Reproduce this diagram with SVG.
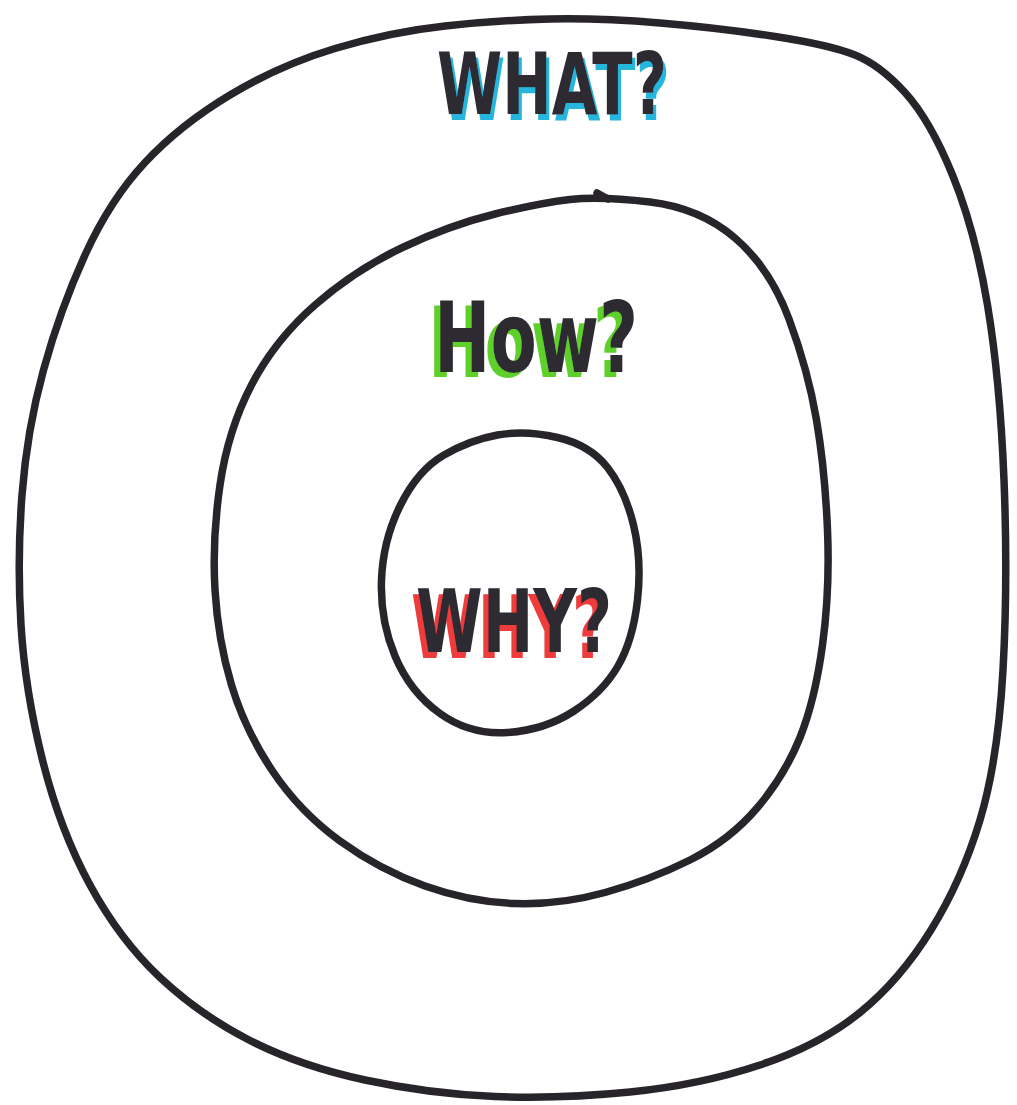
<svg xmlns="http://www.w3.org/2000/svg" width="1017" height="1105" viewBox="0 0 1017 1105">
<style>
.ring{fill:none;stroke:#28252a;stroke-width:7.5;stroke-linecap:round;stroke-linejoin:round}
.lbl{font-family:"DejaVu Sans Condensed","DejaVu Sans","Liberation Sans",sans-serif;font-weight:bold;fill:#2d2a31}
</style>
<defs>
<filter id="shBlue" x="-10%" y="-20%" width="125%" height="150%">
<feOffset in="SourceAlpha" dx="3" dy="6" result="o"/>
<feFlood flood-color="#25b5dc"/>
<feComposite in2="o" operator="in" result="s"/>
<feMerge><feMergeNode in="s"/><feMergeNode in="SourceGraphic"/></feMerge>
</filter>
<filter id="shGreen" x="-10%" y="-20%" width="125%" height="150%">
<feOffset in="SourceAlpha" dx="-6" dy="5" result="o"/>
<feFlood flood-color="#5fd02c"/>
<feComposite in2="o" operator="in" result="s"/>
<feMerge><feMergeNode in="s"/><feMergeNode in="SourceGraphic"/></feMerge>
</filter>
<filter id="shRed" x="-10%" y="-20%" width="125%" height="150%">
<feOffset in="SourceAlpha" dx="-5" dy="6" result="o"/>
<feFlood flood-color="#ee3b3b"/>
<feComposite in2="o" operator="in" result="s"/>
<feMerge><feMergeNode in="s"/><feMergeNode in="SourceGraphic"/></feMerge>
</filter>
</defs>
<rect width="1017" height="1105" fill="#ffffff"/>
<g id="what-ring">
<path class="ring" d="M335,48.5 Q390,32 445,26 Q500,20 550,19 Q600,18 660,23 Q720,28 775,36.5 Q830,45 855,55 Q880,65 905,92.5 Q930,120 952.5,175 Q975,230 987.5,305 Q1000,380 1004,480 Q1008,580 1003,670 Q998,760 980,820 Q962,880 931,930 Q900,980 860,1012.5 Q820,1045 760,1065 Q700,1085 630,1092 Q560,1099 495,1096.5 Q430,1094 365,1080 Q300,1066 250,1040.5 Q200,1015 160,977.5 Q120,940 90,885 Q60,830 42.5,760 Q25,690 21,625 Q17,560 22,495 Q27,430 43.5,370 Q60,310 85,255 Q110,200 145,162.5 Q180,125 230,95 Q280,65 335,48.5 Z"/>
</g>
<g id="how-ring">
<path class="ring" d="M495,214 Q540,203 570,199.5 Q600,196 650,202 Q700,208 735,238 Q770,268 789,319 Q808,370 816.5,420 Q825,470 827.5,530 Q830,590 822.5,645 Q815,700 800,737.5 Q785,775 757.5,807.5 Q730,840 690,860 Q650,880 605,892.5 Q560,905 515,903.5 Q470,902 425,886 Q380,870 340,841 Q300,812 272.5,771 Q245,730 231.5,685 Q218,640 215,590 Q212,540 220,485 Q228,430 251.5,385 Q275,340 315,305 Q355,270 402.5,247.5 Q450,225 495,214 Z"/>
<path class="ring" d="M597,193 L608,199"/>
</g>
<g id="why-ring">
<path class="ring" d="M444,455 Q470,440 497.5,435 Q525,430 557.5,437.5 Q590,445 607.5,467.5 Q625,490 633.5,525 Q642,560 637.5,600 Q633,640 618,666 Q603,692 574,711 Q545,730 507.5,732.5 Q470,735 440,713.5 Q410,692 395,656 Q380,620 381.5,580 Q383,540 400.5,505 Q418,470 444,455 Z"/>
</g>
<g id="what-label">
<text class="lbl" x="437" y="114" font-size="86" textLength="230" lengthAdjust="spacingAndGlyphs" filter="url(#shBlue)">WHAT?</text>
</g>
<g id="how-label">
<text class="lbl" x="434" y="372" font-size="98" textLength="204" lengthAdjust="spacingAndGlyphs" filter="url(#shGreen)">How?</text>
</g>
<g id="why-label">
<text class="lbl" x="416" y="652" font-size="88" textLength="196" lengthAdjust="spacingAndGlyphs" filter="url(#shRed)">WHY?</text>
</g>
</svg>
